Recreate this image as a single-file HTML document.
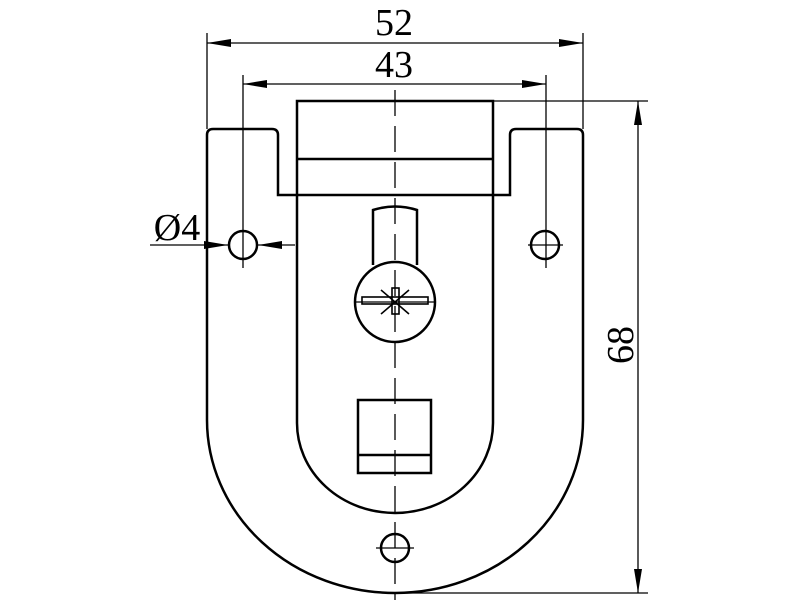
<!DOCTYPE html>
<html><head><style>html,body{margin:0;padding:0;background:#fff}svg{display:block}</style></head>
<body>
<svg width="800" height="600" viewBox="0 0 800 600" xmlns="http://www.w3.org/2000/svg">
<defs>
<marker id="a" viewBox="0 0 24 8" refX="24" refY="4" markerWidth="24" markerHeight="8" markerUnits="userSpaceOnUse" orient="auto-start-reverse"><path d="M0,0 L24,4 L0,8 z" fill="#000"/></marker>
</defs>
<g fill="none" stroke="#000" stroke-width="2.5">
<path d="M207,135 Q207,129 213,129 L272,129 Q278,129 278,135 L278,195 L510,195 L510,135 Q510,129 516,129 L577,129 Q583,129 583,135 L583,420 A188,173 0 0 1 207,420 Z"/>
<path d="M297,101 L493,101 L493,423 A98,90 0 0 1 297,423 Z"/>
<line x1="297" y1="159" x2="493" y2="159"/>
<rect x="358" y="400" width="73" height="73"/>
<line x1="358" y1="455" x2="431" y2="455"/>
<path d="M373,265 L373,210 Q395,203 417,210 L417,265"/>
<circle cx="395" cy="302" r="40" fill="#fff"/>
<circle cx="243" cy="245" r="14"/>
<circle cx="545" cy="245" r="14"/>
<circle cx="395" cy="548" r="14"/>
</g>
<g fill="none" stroke="#000" stroke-width="1.6">
<rect x="362" y="297" width="66" height="7"/>
<rect x="392" y="288" width="7" height="26"/>
<path d="M381,290 L409,314 M409,290 L381,314"/>
</g>
<g stroke="#000" stroke-width="1.3" fill="none">
<line x1="395" y1="90" x2="395" y2="600" stroke-dasharray="26,10"/>
<line x1="243" y1="75" x2="243" y2="268"/>
<line x1="546" y1="75" x2="546" y2="268"/>
<line x1="528" y1="245" x2="563" y2="245"/>
<line x1="376" y1="548" x2="414" y2="548"/>
<line x1="355" y1="302" x2="435" y2="302"/>
<line x1="207" y1="33" x2="207" y2="129"/>
<line x1="583" y1="33" x2="583" y2="129"/>
<line x1="207" y1="43" x2="583" y2="43" marker-start="url(#a)" marker-end="url(#a)"/>
<line x1="243" y1="84" x2="546" y2="84" marker-start="url(#a)" marker-end="url(#a)"/>
<line x1="493" y1="101" x2="648" y2="101"/>
<line x1="395" y1="593" x2="648" y2="593"/>
<line x1="638" y1="101" x2="638" y2="593" marker-start="url(#a)" marker-end="url(#a)"/>
<line x1="150" y1="245" x2="228" y2="245" marker-end="url(#a)"/>
<line x1="295" y1="245" x2="258" y2="245" marker-end="url(#a)"/>
</g>
<g font-family="Liberation Serif, serif" font-size="38" fill="#000" text-anchor="middle">
<text x="394" y="35">52</text>
<text x="394" y="77">43</text>
<text x="177" y="240">Ø4</text>
<text transform="translate(633,345) rotate(-90)">68</text>
</g>
</svg>
</body></html>
